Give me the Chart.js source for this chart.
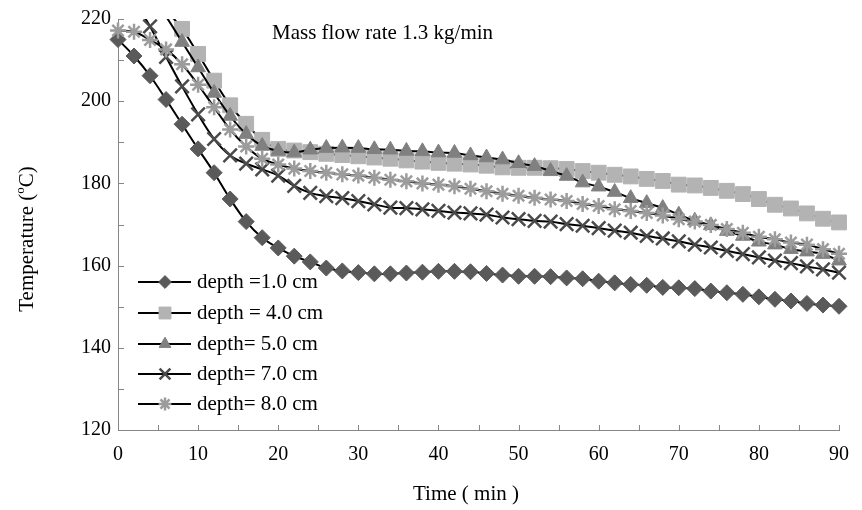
<!DOCTYPE html>
<html>
<head>
<meta charset="utf-8">
<script src="https://cdn.jsdelivr.net/npm/chart.js@4.4.0/dist/chart.umd.min.js"></script>
<style>
  html, body { margin: 0; padding: 0; background: #fff; }
</style>
</head>
<body>
<canvas id="chart" width="862" height="510"></canvas>
<script>
// time axis (min), one reading every 2 minutes
const TIME = [0, 2, 4, 6, 8, 10, 12, 14, 16, 18, 20, 22, 24, 26, 28, 30, 32, 34, 36, 38,
  40, 42, 44, 46, 48, 50, 52, 54, 56, 58, 60, 62, 64, 66, 68, 70, 72, 74, 76, 78,
  80, 82, 84, 86, 88, 90];

// temperature (oC) per depth; values above 220 lie off the top of the plot
const DEPTH_1 = [215.0, 211.0, 206.2, 200.4, 194.4, 188.4, 182.6, 176.2, 170.7, 166.8,
  164.3, 162.3, 160.9, 159.4, 158.7, 158.3, 158.0, 158.0, 158.2, 158.4,
  158.6, 158.6, 158.5, 158.1, 157.7, 157.4, 157.4, 157.3, 157.0, 156.8,
  156.2, 155.8, 155.4, 155.2, 154.7, 154.6, 154.4, 153.8, 153.4, 153.0,
  152.4, 151.8, 151.4, 150.8, 150.4, 150.1];
const DEPTH_4 = [240, 234, 228, 222.3, 217.6, 211.5, 205.0, 199.0, 194.5, 190.6,
  188.4, 188.0, 187.6, 187.2, 186.9, 186.6, 186.3, 186.0, 185.6, 185.3,
  185.0, 184.8, 184.6, 184.3, 183.9, 183.8, 183.8, 183.7, 183.5, 183.0,
  182.6, 182.1, 181.7, 181.1, 180.6, 179.7, 179.5, 178.9, 178.2, 177.4,
  176.2, 174.8, 173.9, 172.7, 171.4, 170.5];
const DEPTH_5 = [238, 232, 226, 220.6, 214.4, 208.2, 202.0, 196.4, 192.0, 189.1,
  187.9, 187.5, 188.2, 188.6, 188.7, 188.6, 188.3, 188.2, 187.9, 187.8,
  187.5, 187.4, 186.8, 186.3, 185.8, 184.9, 184.2, 183.0, 181.8, 180.2,
  179.2, 177.9, 176.4, 175.2, 174.0, 172.4, 170.9, 169.8, 168.4, 167.2,
  165.8, 165.1, 164.0, 163.4, 162.8, 161.2];
const DEPTH_7 = [231, 224.5, 218.2, 210.8, 203.6, 196.8, 190.8, 186.8, 184.8, 183.4,
  181.9, 179.4, 177.7, 176.9, 176.4, 175.7, 174.9, 174.1, 174.0, 173.7,
  173.3, 172.9, 172.7, 172.4, 171.7, 171.3, 170.9, 170.7, 170.1, 169.7,
  169.1, 168.5, 168.0, 167.2, 166.6, 165.9, 165.1, 164.4, 163.6, 162.8,
  162.0, 161.2, 160.6, 159.8, 159.1, 158.3];
const DEPTH_8 = [217.2, 216.9, 214.9, 212.6, 209.0, 204.0, 198.5, 193.1, 189.0, 186.0,
  184.6, 183.6, 183.0, 182.6, 182.2, 181.9, 181.4, 180.9, 180.5, 180.0,
  179.7, 179.3, 178.7, 178.1, 177.5, 177.0, 176.5, 176.1, 175.7, 175.0,
  174.5, 173.7, 173.3, 172.8, 172.2, 171.3, 170.7, 169.9, 168.9, 168.0,
  167.0, 166.4, 165.6, 165.1, 164.0, 162.9];

const SERIES_LABELS = ['depth =1.0 cm', 'depth = 4.0 cm', 'depth= 5.0 cm', 'depth= 7.0 cm', 'depth= 8.0 cm'];
const X_TICKS = [0, 10, 20, 30, 40, 50, 60, 70, 80, 90];
const Y_TICKS = [120, 140, 160, 180, 200, 220];

const FONT = "'Liberation Serif', 'Times New Roman', serif";
const AXIS_GRAY = '#868686';

// marker look for each series (diamond, square, triangle, x, asterisk)
const MARKERS = [
  { style: 'rectRot', radius: 8, fill: '#5a5a5a', stroke: '#5a5a5a', width: 1 },
  { style: 'rect', radius: 10.5, fill: '#b3b3b3', stroke: '#b3b3b3', width: 1 },
  { style: 'triangle', radius: 8.5, fill: '#808080', stroke: '#808080', width: 1 },
  { style: 'crossRot', radius: 9.5, fill: '#4a4a4a', stroke: '#4a4a4a', width: 2.5 },
  { style: 'star', radius: 8, fill: '#9c9c9c', stroke: '#9c9c9c', width: 2.5 }
];

function toPoints(values) {
  return TIME.map((t, i) => ({ x: t, y: values[i] }));
}

function makeDataset(label, values, m, order) {
  return {
    label: label,
    data: toPoints(values),
    borderColor: '#000',
    borderWidth: 2,
    tension: 0.35,
    pointStyle: m.style,
    pointBackgroundColor: m.fill,
    pointBorderColor: m.stroke,
    pointBorderWidth: m.width,
    pointRadius: ctx => (ctx.parsed && ctx.parsed.y > 220 ? 0 : m.radius),
    pointHoverRadius: m.radius,
    clip: { left: 14, top: 0, right: 14, bottom: 0 },
    order: order
  };
}

// axis titles, inner tick marks, in-plot title and legend
const decorPlugin = {
  id: 'decor',
  afterDraw(chart) {
    const ctx = chart.ctx;
    const xs = chart.scales.x;
    const ys = chart.scales.y;
    const area = chart.chartArea;

    ctx.save();
    ctx.strokeStyle = AXIS_GRAY;
    ctx.lineWidth = 1;
    ctx.beginPath();
    for (let v = 5; v <= 90; v += 5) {
      const px = Math.round(xs.getPixelForValue(v)) + 0.5;
      ctx.moveTo(px, area.bottom);
      ctx.lineTo(px, area.bottom - 5);
    }
    for (let v = 130; v <= 220; v += 10) {
      const py = Math.round(ys.getPixelForValue(v)) + 0.5;
      ctx.moveTo(area.left, py);
      ctx.lineTo(area.left + 6, py);
    }
    ctx.stroke();

    ctx.fillStyle = '#000';
    ctx.font = '21px ' + FONT;
    ctx.textBaseline = 'middle';
    ctx.textAlign = 'left';
    ctx.fillText('Mass flow rate 1.3 kg/min', 272, 33);

    ctx.textAlign = 'center';
    ctx.fillText('Time ( min )', 466, 494);

    // y title with a raised small "o"
    const a = 'Temperature (', b = 'o', c = 'C)';
    ctx.font = '21px ' + FONT;
    const wa = ctx.measureText(a).width;
    const wc = ctx.measureText(c).width;
    ctx.font = '13px ' + FONT;
    const wb = ctx.measureText(b).width;
    const total = wa + wb + wc;
    ctx.translate(27, 239);
    ctx.rotate(-Math.PI / 2);
    ctx.textAlign = 'left';
    ctx.font = '21px ' + FONT;
    ctx.fillText(a, -total / 2, 0);
    ctx.font = '13px ' + FONT;
    ctx.fillText(b, -total / 2 + wa, -6);
    ctx.font = '21px ' + FONT;
    ctx.fillText(c, -total / 2 + wa + wb, 0);
    ctx.setTransform(1, 0, 0, 1, 0, 0);

    // legend inside the plot, lower left
    const rows = [282, 313, 344, 374, 404];
    SERIES_LABELS.forEach((label, i) => {
      const y = rows[i];
      const m = MARKERS[i];
      ctx.strokeStyle = '#000';
      ctx.lineWidth = 2;
      ctx.beginPath();
      ctx.moveTo(138, y);
      ctx.lineTo(191, y);
      ctx.stroke();
      ctx.fillStyle = m.fill;
      ctx.strokeStyle = m.stroke;
      ctx.lineWidth = m.width;
      Chart.helpers.drawPoint(ctx, {
        pointStyle: m.style, radius: m.radius * 0.8, rotation: 0, borderWidth: m.width
      }, 165, y);
      ctx.fillStyle = '#000';
      ctx.font = '21px ' + FONT;
      ctx.textAlign = 'left';
      ctx.textBaseline = 'middle';
      ctx.fillText(label, 197, y);
    });
    ctx.restore();
  }
};

new Chart(document.getElementById('chart'), {
  type: 'line',
  data: {
    datasets: [
      makeDataset(SERIES_LABELS[0], DEPTH_1, MARKERS[0], 5),
      makeDataset(SERIES_LABELS[1], DEPTH_4, MARKERS[1], 4),
      makeDataset(SERIES_LABELS[2], DEPTH_5, MARKERS[2], 3),
      makeDataset(SERIES_LABELS[3], DEPTH_7, MARKERS[3], 2),
      makeDataset(SERIES_LABELS[4], DEPTH_8, MARKERS[4], 1)
    ]
  },
  options: {
    responsive: false,
    animation: false,
    devicePixelRatio: 1,
    layout: { padding: { top: 16, right: 11, left: 0, bottom: 0 } },
    plugins: {
      legend: { display: false },
      tooltip: { enabled: false },
      title: { display: false }
    },
    scales: {
      x: {
        type: 'linear',
        min: 0,
        max: 90,
        afterFit: s => { s.height = 80; },
        afterBuildTicks: s => { s.ticks = X_TICKS.map(v => ({ value: v })); },
        grid: { display: false, drawTicks: false },
        border: { display: true, color: AXIS_GRAY, width: 1 },
        ticks: { color: '#000', font: { family: FONT, size: 20 }, padding: 13, maxRotation: 0 }
      },
      y: {
        type: 'linear',
        min: 120,
        max: 220,
        afterFit: s => { s.width = 118; },
        afterBuildTicks: s => { s.ticks = Y_TICKS.map(v => ({ value: v })); },
        grid: { display: false, drawTicks: false },
        border: { display: true, color: AXIS_GRAY, width: 1 },
        ticks: { color: '#000', font: { family: FONT, size: 20 }, padding: 7 }
      }
    }
  },
  plugins: [decorPlugin]
});
</script>
</body>
</html>
